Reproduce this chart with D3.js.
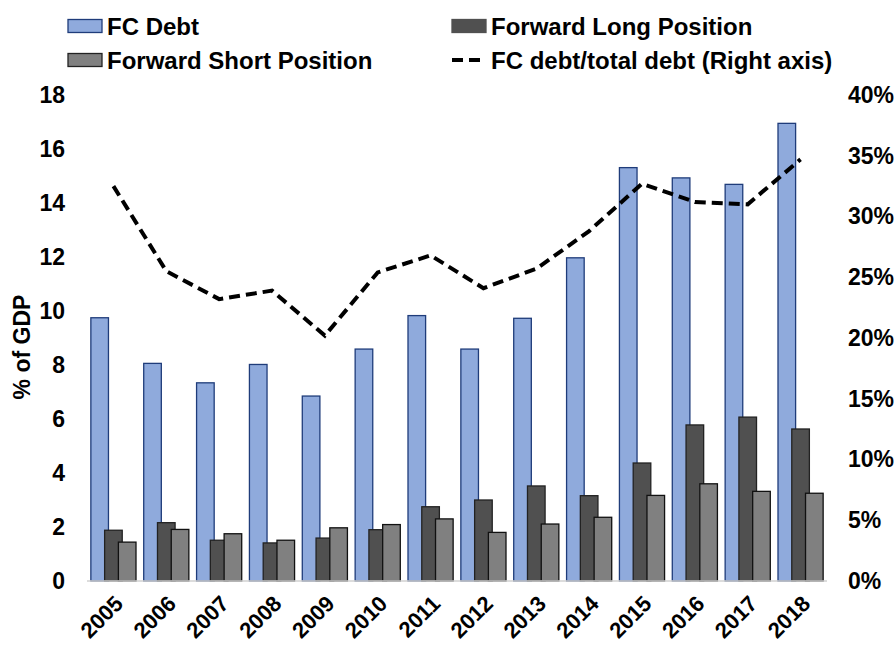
<!DOCTYPE html>
<html>
<head>
<meta charset="utf-8">
<script src="https://cdn.jsdelivr.net/npm/d3@7"></script>
<style>
  body { margin: 0; background: #fff; }
  svg { font-family: "Liberation Sans", Arial, sans-serif; font-weight: bold; }
</style>
</head>
<body>
<div id="chart"></div>
<script>
// Data
const years = ["2005", "2006", "2007", "2008", "2009", "2010", "2011",
    "2012", "2013", "2014", "2015", "2016", "2017", "2018"];
const fcDebt = [9.75, 8.06, 7.34, 8.02, 6.85, 8.59, 9.83, 8.59, 9.73, 11.97, 15.31, 14.93, 14.69, 16.95];
const fwdLong = [1.88, 2.16, 1.51, 1.41, 1.59, 1.90, 2.75, 3.00, 3.52, 3.16, 4.37, 5.78, 6.07, 5.63];
const fwdShort = [1.44, 1.91, 1.75, 1.51, 1.97, 2.09, 2.30, 1.80, 2.11, 2.36, 3.17, 3.60, 3.32, 3.25];
const fcShare = [32.5, 25.5, 23.2, 23.9, 20.2, 25.4, 26.8, 24.1, 25.7, 28.8, 32.7, 31.2, 31.0, 34.7];
const leftTicks = [0, 2, 4, 6, 8, 10, 12, 14, 16, 18];
const rightTicks = [0, 5, 10, 15, 20, 25, 30, 35, 40];

const seriesNames = ["FC Debt", "Forward Long Position", "Forward Short Position"];
const seriesValues = [fcDebt, fwdLong, fwdShort];
const seriesFill = ["#8FAADC", "#505050", "#808080"];
const seriesStroke = ["#1F3C7A", "#222222", "#111111"];

// Layout
const W = 896, H = 648;
const plot = { left: 87, right: 827, top: 95, bottom: 581 };
const fontFam = "Liberation Sans, Arial, sans-serif";

const svg = d3.select("#chart")
    .append("svg")
    .attr("width", W)
    .attr("height", H);

// Scales
const x = d3.scaleBand()
    .domain(years)
    .range([plot.left, plot.right])
    .paddingInner(0.146)
    .paddingOuter(0.073);

const yLeft = d3.scaleLinear()
    .domain([0, 18])
    .range([plot.bottom, plot.top]);

const yRight = d3.scaleLinear()
    .domain([0, 40])
    .range([plot.bottom, plot.top]);

const barW = x.bandwidth() * 0.39;
const xs = d3.scaleLinear()
    .domain([0, 2])
    .range([0, x.bandwidth() - barW]);

// Bars
seriesValues.forEach((vals, si) => {
    svg.append("g")
        .selectAll("rect")
        .data(vals)
        .enter()
        .append("rect")
        .attr("x", (d, i) => x(years[i]) + xs(si))
        .attr("y", d => yLeft(d))
        .attr("width", barW)
        .attr("height", d => yLeft(0) - yLeft(d))
        .attr("fill", seriesFill[si])
        .attr("stroke", seriesStroke[si])
        .attr("stroke-width", 1.3);
});

// Baseline
svg.append("line")
    .attr("x1", plot.left)
    .attr("x2", plot.right)
    .attr("y1", yLeft(0))
    .attr("y2", yLeft(0))
    .attr("stroke", "#D0D0D0")
    .attr("stroke-width", 1.3);

// FC debt share line (right axis)
const line = d3.line()
    .x((d, i) => x(years[i]) + x.bandwidth() / 2)
    .y(d => yRight(d));

svg.append("path")
    .datum(fcShare)
    .attr("d", line)
    .attr("fill", "none")
    .attr("stroke", "#000")
    .attr("stroke-width", 4)
    .attr("stroke-dasharray", "11,6");

// Left axis
const leftAxis = svg.append("g")
    .attr("transform", `translate(${plot.left - 22}, 0)`)
    .call(d3.axisLeft(yLeft).tickValues(leftTicks).tickSize(0).tickPadding(0));
leftAxis.select(".domain").remove();
leftAxis.selectAll("text")
    .style("font-size", "23px")
    .style("font-weight", "bold")
    .style("font-family", fontFam)
    .attr("fill", "#000");

// Right axis
const rightAxis = svg.append("g")
    .attr("transform", `translate(${plot.right + 21}, 0)`)
    .call(d3.axisRight(yRight).tickValues(rightTicks).tickSize(0).tickPadding(0)
        .tickFormat(d => d + "%"));
rightAxis.select(".domain").remove();
rightAxis.selectAll("text")
    .style("font-size", "23px")
    .style("font-weight", "bold")
    .style("font-family", fontFam)
    .attr("fill", "#000");

// X axis labels, rotated
const xAxis = svg.append("g")
    .attr("transform", `translate(0, ${plot.bottom})`)
    .call(d3.axisBottom(x).tickSize(0).tickPadding(0));
xAxis.select(".domain").remove();
xAxis.selectAll("text")
    .style("font-size", "22px")
    .style("font-weight", "bold")
    .style("font-family", fontFam)
    .attr("fill", "#000")
    .attr("text-anchor", "end")
    .attr("dy", "0")
    .attr("transform", "translate(11, 24) rotate(-45)");

// Y axis title
svg.append("text")
    .attr("transform", `translate(30, 347) rotate(-90)`)
    .attr("text-anchor", "middle")
    .style("font-size", "23px")
    .text("% of GDP");

// Legend
const legendItems = [
    { name: seriesNames[0], type: "rect", fill: seriesFill[0], stroke: seriesStroke[0], x: 68, y: 26 },
    { name: seriesNames[1], type: "rect", fill: seriesFill[1], stroke: "#505050", x: 452, y: 26 },
    { name: seriesNames[2], type: "rect", fill: seriesFill[2], stroke: "#222", x: 68, y: 60 },
    { name: "FC debt/total debt (Right axis)", type: "line", x: 452, y: 60 }
];

const legend = svg.append("g");
legendItems.forEach(item => {
    if (item.type === "rect") {
        legend.append("rect")
            .attr("x", item.x)
            .attr("y", item.y - 6.5)
            .attr("width", 34)
            .attr("height", 13)
            .attr("fill", item.fill)
            .attr("stroke", item.stroke)
            .attr("stroke-width", 1.3);
    } else {
        legend.append("line")
            .attr("x1", item.x)
            .attr("x2", item.x + 32)
            .attr("y1", item.y)
            .attr("y2", item.y)
            .attr("stroke", "#000")
            .attr("stroke-width", 4)
            .attr("stroke-dasharray", "11,6");
    }
    legend.append("text")
        .attr("x", item.x + 39)
        .attr("y", item.y)
        .attr("dy", "0.36em")
        .style("font-size", "24px")
        .text(item.name);
});
</script>
</body>
</html>
